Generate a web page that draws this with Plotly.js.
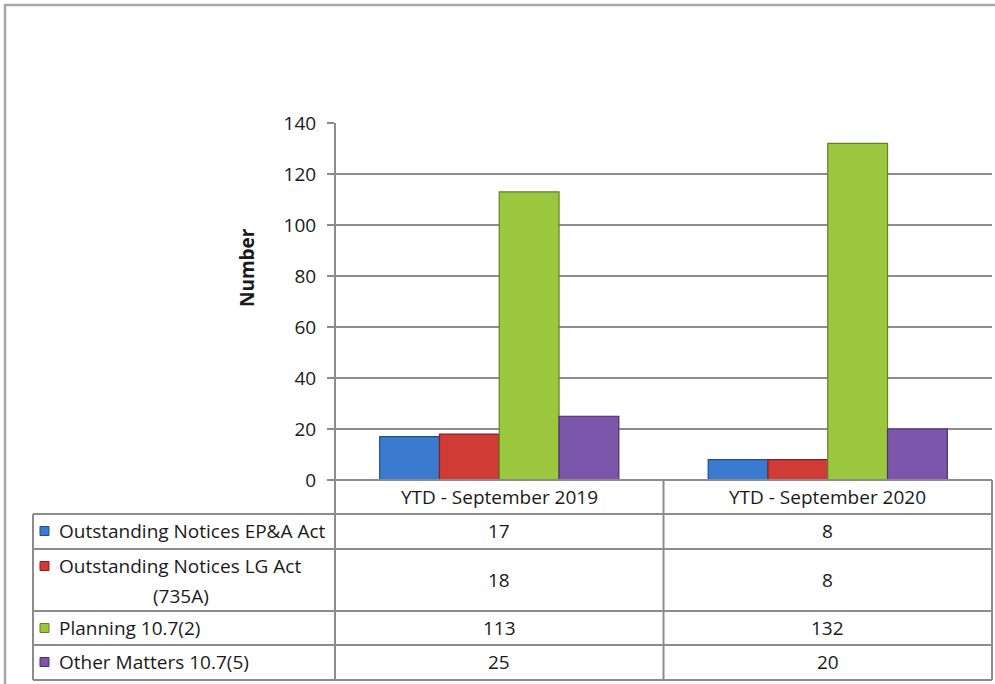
<!DOCTYPE html>
<html>
<head>
<meta charset="utf-8">
<script src="https://cdn.plot.ly/plotly-3.0.1.min.js"></script>
<style>html,body{margin:0;padding:0;background:#fff;}#chart{width:995px;height:684px;}</style>
</head>
<body>
<div id="chart"></div>
<script>
// ---- data ----
const categories = ['YTD - September 2019', 'YTD - September 2020'];
const seriesNames = ['Outstanding Notices EP&A Act', 'Outstanding Notices LG Act (735A)', 'Planning 10.7(2)', 'Other Matters 10.7(5)'];
const epaAct = [17, 8];
const lgAct = [18, 8];
const planning = [113, 132];
const otherMatters = [25, 20];
const yTickVals = [0, 20, 40, 60, 80, 100, 120, 140];
const yAxisTitle = 'Number';

// ---- styles ----
const seriesValues = [epaAct, lgAct, planning, otherMatters];
const fillColors = ['#3a7bd0', '#d03b35', '#9bc73f', '#7d55aa'];
const edgeColors = ['#1f4f8f', '#8c1f1c', '#5f8224', '#4c2f70'];
const FONT = 'Open Sans, Lato, Liberation Sans, sans-serif';
const FS = 19;
const W = 995, H = 684;
const M = {l: 335, r: 3, t: 123, b: 204};
const plotW = W - M.l - M.r, plotH = H - M.t - M.b;
const px = X => (X - M.l) / plotW;        // pixel x -> paper x
const py = Y => (H - M.b - Y) / plotH;    // pixel y -> paper y
const lineCol = '#8c8c8c';
const txtCol = '#1a1a1a';

const traces = seriesNames.map((name, i) => ({
  type: 'bar',
  name: name,
  x: categories,
  y: seriesValues[i],
  marker: {color: fillColors[i], line: {color: edgeColors[i], width: 1.2}},
  hoverinfo: 'x+y+name'
}));

// table geometry (pixels)
const tLeft = 33, tRight = M.l + plotW;
const rowLines = [514, 549, 611, 645, 680];
const rowCenters = [531, 580, 628, 662];
const headerCenter = 497;

const shapes = [];
const hline = (x0, x1, y, col, w) => shapes.push({type: 'line', xref: 'paper', yref: 'paper', x0: px(x0), x1: px(x1), y0: py(y), y1: py(y), line: {color: col, width: w}});
const vline = (x, y0, y1, col, w) => shapes.push({type: 'line', xref: 'paper', yref: 'paper', x0: px(x), x1: px(x), y0: py(y0), y1: py(y1), line: {color: col, width: w}});

// outer frame
hline(4, W, 5, '#a6a6a6', 2.5);
vline(5, 4, H, '#a6a6a6', 2.5);
// value axis line extended through table
vline(M.l, M.t, 680, lineCol, 2);
// table grid
hline(M.l, tRight, H - M.b, lineCol, 2);
rowLines.forEach(y => hline(tLeft, tRight, y, lineCol, 2));
vline(tLeft, rowLines[0], 680, lineCol, 2);
categories.forEach((c, i) => vline(M.l + plotW * (i + 1) / categories.length, H - M.b, 680, lineCol, 2));
// legend keys
const keyLineY = [531, 566, 628, 662];
seriesNames.forEach((n, i) => {
  shapes.push({type: 'rect', xref: 'paper', yref: 'paper',
    x0: px(40), x1: px(49), y0: py(keyLineY[i] - 4.5), y1: py(keyLineY[i] + 4.5),
    fillcolor: fillColors[i], line: {color: edgeColors[i], width: 1}});
});

const annotations = [];
// header categories
categories.forEach((c, i) => annotations.push({
  xref: 'x', yref: 'paper', x: i, y: py(headerCenter), text: c, showarrow: false,
  xanchor: 'center', yanchor: 'middle', font: {family: FONT, size: FS, color: txtCol}
}));
// row labels
seriesNames.forEach((n, i) => {
  if (i === 1) {
    const m = n.match(/^(.*)\s(\(.*\))$/);
    annotations.push({xref: 'paper', yref: 'paper', x: px(57), y: py(566), text: m[1], showarrow: false,
      xanchor: 'left', yanchor: 'middle', font: {family: FONT, size: FS, color: txtCol}});
    annotations.push({xref: 'paper', yref: 'paper', x: px(181), y: py(596), text: m[2], showarrow: false,
      xanchor: 'center', yanchor: 'middle', font: {family: FONT, size: FS, color: txtCol}});
  } else {
    annotations.push({xref: 'paper', yref: 'paper', x: px(57), y: py(rowCenters[i]), text: n, showarrow: false,
      xanchor: 'left', yanchor: 'middle', font: {family: FONT, size: FS, color: txtCol}});
  }
});
// row values
seriesValues.forEach((vals, r) => vals.forEach((v, c) => annotations.push({
  xref: 'x', yref: 'paper', x: c, y: py(rowCenters[r]), text: String(v), showarrow: false,
  xanchor: 'center', yanchor: 'middle', font: {family: FONT, size: FS, color: txtCol}
})));
// y axis title
annotations.push({xref: 'paper', yref: 'paper', x: px(247), y: py(268), text: '<b>' + yAxisTitle + '</b>',
  textangle: -90, showarrow: false, xanchor: 'center', yanchor: 'middle',
  font: {family: FONT, size: 19, color: txtCol}});

const layout = {
  width: W, height: H,
  margin: M,
  paper_bgcolor: '#fff', plot_bgcolor: '#fff',
  showlegend: false,
  barmode: 'group', bargap: 0.272, bargroupgap: 0,
  font: {family: FONT, size: FS, color: txtCol},
  xaxis: {type: 'category', range: [-0.5, 1.5], showticklabels: false, ticks: '', showline: false, showgrid: false, zeroline: false, fixedrange: true},
  yaxis: {range: [0, 140], tickmode: 'array', tickvals: yTickVals, ticks: 'outside', ticklen: 7, tickwidth: 2, tickcolor: lineCol,
    showgrid: true, gridcolor: lineCol, gridwidth: 2, showline: false, zeroline: false,
    tickfont: {family: FONT, size: FS, color: txtCol}, ticklabelstandoff: 7, fixedrange: true},
  shapes: shapes,
  annotations: annotations
};

Plotly.newPlot('chart', traces, layout, {displayModeBar: false, staticPlot: true});
</script>
</body>
</html>
